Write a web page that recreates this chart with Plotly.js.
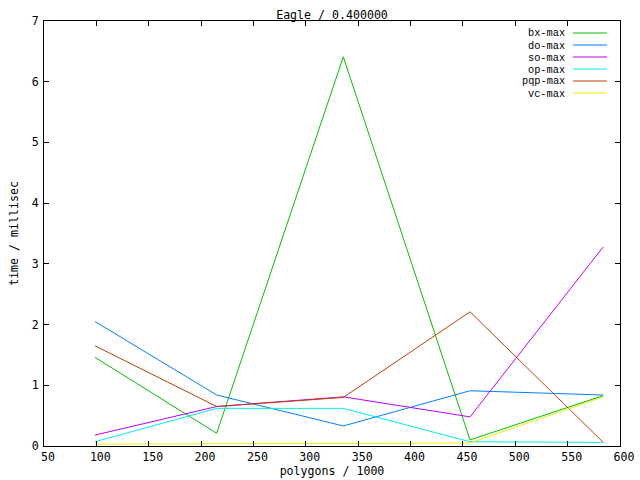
<!DOCTYPE html>
<html>
<head>
<meta charset="utf-8">
<script src="https://cdn.plot.ly/plotly-3.0.1.min.js"></script>
<style>html,body{margin:0;padding:0;background:#fff;}#chart{width:640px;height:480px;}</style>
</head>
<body>
<div id="chart"></div>
<script>
// polygon counts (thousands)
const polygons = [98.7, 214.9, 335.8, 456.8, 584.0];
const seriesNames = ["bx-max", "do-max", "so-max", "op-max", "pqp-max", "vc-max"];
const bxMax  = [1.46, 0.21, 6.41, 0.10, 0.83];
const doMax  = [2.05, 0.84, 0.33, 0.91, 0.84];
const soMax  = [0.18, 0.65, 0.81, 0.48, 3.28];
const opMax  = [0.07, 0.62, 0.62, 0.07, 0.06];
const pqpMax = [1.65, 0.65, 0.80, 2.21, 0.06];
const vcMax  = [0.03, 0.04, 0.05, 0.05, 0.81];
const seriesValues = [bxMax, doMax, soMax, opMax, pqpMax, vcMax];
const seriesColors = ["#00c000", "#0080ff", "#c000ff", "#00eeee", "#c04000", "#eeee00"];
const xTicks = [50, 100, 150, 200, 250, 300, 350, 400, 450, 500, 550, 600];
const yTicks = [0, 1, 2, 3, 4, 5, 6, 7];

const FONT = "DejaVu Sans Mono, Liberation Mono, monospace";
const KEYFONT = "Liberation Mono, DejaVu Sans Mono, monospace";

const traces = seriesNames.map((n, i) => ({
  x: polygons, y: seriesValues[i], name: n, type: "scatter", mode: "lines",
  line: {color: seriesColors[i], width: 1}, showlegend: false, hoverinfo: "skip"
}));

// gnuplot-style key: right-aligned text followed by line sample
const annotations = [];
const shapes = [];
seriesNames.forEach((n, i) => {
  const yPix = 33 + i * 12;            // pixel row in the key
  const yPaper = 1 - (yPix - 21) / 425;
  annotations.push({xref: "paper", yref: "paper", x: (566 - 44) / 576, y: yPaper,
    xanchor: "right", yanchor: "middle", text: n, showarrow: false,
    height: 11, borderpad: 0,
    font: {family: KEYFONT, size: 10.3, color: "#000"}});
  shapes.push({type: "line", xref: "paper", yref: "paper",
    x0: (573 - 44) / 576, x1: (607 - 44) / 576, y0: yPaper, y1: yPaper,
    line: {color: seriesColors[i], width: 1}});
});

const axisCommon = {
  showline: true, linecolor: "#000", linewidth: 1, mirror: "ticks",
  ticks: "inside", ticklen: 5, tickwidth: 1, tickcolor: "#000",
  showgrid: false, zeroline: false, tickfont: {family: FONT, size: 11.6, color: "#000"}
};

const layout = {
  width: 640, height: 480,
  margin: {l: 44, r: 20, t: 21, b: 34, pad: 0},
  paper_bgcolor: "#fff", plot_bgcolor: "#fff",
  showlegend: false,
  title: {text: "Eagle / 0.400000", font: {family: FONT, size: 11.6, color: "#000"},
          x: 0.5, xref: "paper", y: 1 - 15 / 480, yanchor: "middle"},
  xaxis: Object.assign({}, axisCommon, {range: [50, 600], tickvals: xTicks, ticktext: xTicks.map(String),
    ticklabelshift: 4,
    title: {text: "polygons / 1000", font: {family: FONT, size: 11.6, color: "#000"}, standoff: 3}}),
  yaxis: Object.assign({}, axisCommon, {range: [0, 7], tickvals: yTicks, ticktext: yTicks.map(String),
    ticklabelstandoff: 2,
    title: {text: "time / millisec", font: {family: FONT, size: 11.6, color: "#000"}, standoff: 10}}),
  annotations: annotations, shapes: shapes
};

Plotly.newPlot("chart", traces, layout, {staticPlot: true, displayModeBar: false});
</script>
</body>
</html>
